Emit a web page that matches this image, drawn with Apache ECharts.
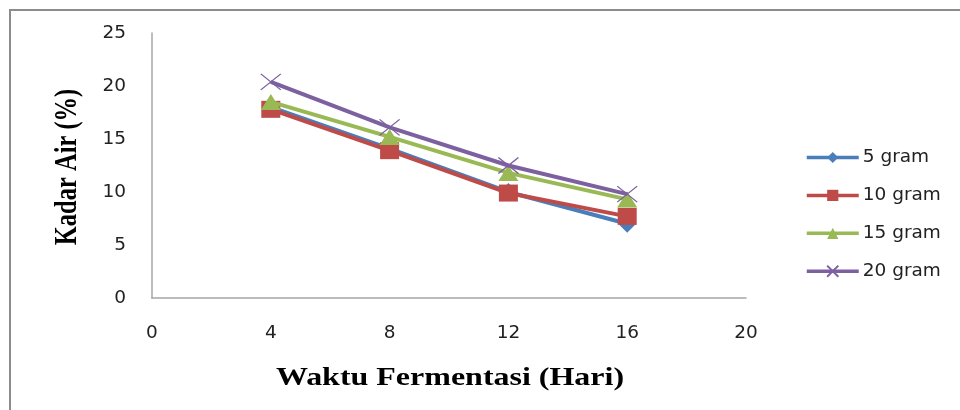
<!DOCTYPE html>
<html>
<head>
<meta charset="utf-8">
<script src="https://cdn.jsdelivr.net/npm/echarts@6/dist/echarts.min.js"></script>
<style>
  html, body { margin: 0; padding: 0; background: #fff; }
  #chart { width: 960px; height: 410px; }
</style>
</head>
<body>
<div id="chart"></div>
<script>
// Fermentation time (days) and water content (%) per dose
const days = [4, 8, 12, 16];
const gram5 = [18.0, 14.1, 10.0, 7.0];
const gram10 = [17.8, 13.9, 9.9, 7.7];
const gram15 = [18.5, 15.2, 11.8, 9.3];
const gram20 = [20.4, 16.1, 12.5, 9.8];
const seriesNames = ['5 gram', '10 gram', '15 gram', '20 gram'];
const xTitle = 'Waktu Fermentasi (Hari)';
const yTitle = 'Kadar Air (%)';

const colors = ['#4A7EBB', '#BE4B48', '#98B954', '#7D60A0'];
const symbols = ['diamond', 'rect', 'triangle', 'path://M0,0L10,10M10,0L0,10'];
const symbolSizes = [[18, 18], [19, 17], [20, 16], [20, 16]];
const values = [gram5, gram10, gram15, gram20];

const chart = echarts.init(document.getElementById('chart'), null, { renderer: 'canvas' });

const series = values.map((vals, i) => ({
  name: seriesNames[i],
  type: 'line',
  data: days.map((d, j) => [d, vals[j]]),
  symbol: symbols[i],
  symbolSize: symbolSizes[i],
  showAllSymbol: true,
  lineStyle: { color: colors[i], width: 4 },
  itemStyle: i === 3
    ? { color: colors[i], borderColor: colors[i], borderWidth: 1.2 }
    : { color: colors[i], borderWidth: 0 },
  emphasis: { disabled: true },
  z: 2 + i
}));

chart.setOption({
  animation: false,
  backgroundColor: '#ffffff',
  grid: { left: 152, right: 214, top: 33, bottom: 112, containLabel: false },
  graphic: [
    {
      type: 'rect',
      shape: { x: 10, y: 10, width: 980, height: 440 },
      style: { fill: 'none', stroke: '#8c8c8c', lineWidth: 2 },
      silent: true
    },
    {
      // horizontal axis title, slightly widened
      type: 'text',
      x: 450, y: 378,
      scaleX: 1.23,
      style: {
        text: xTitle,
        font: 'bold 26px "Liberation Serif"',
        fill: '#000',
        align: 'center',
        verticalAlign: 'middle'
      },
      silent: true
    },
    {
      // vertical axis title, rotated and widened across the page
      type: 'text',
      x: 68, y: 167,
      rotation: Math.PI / 2,
      scaleY: 1.3,
      style: {
        text: yTitle,
        font: 'bold 24.5px "Liberation Serif"',
        fill: '#000',
        align: 'center',
        verticalAlign: 'middle'
      },
      silent: true
    }
  ],
  xAxis: {
    type: 'value',
    min: 0, max: 20, interval: 4,
    axisLine: { show: true, lineStyle: { color: '#a6a6a6', width: 1.5 } },
    axisTick: { show: false },
    splitLine: { show: false },
    axisLabel: { margin: 26, fontFamily: 'DejaVu Sans', fontSize: 18.5, color: '#222' }
  },
  yAxis: {
    type: 'value',
    min: 0, max: 25, interval: 5,
    axisLine: { show: true, lineStyle: { color: '#a6a6a6', width: 1.5 } },
    axisTick: { show: false },
    splitLine: { show: false },
    axisLabel: { margin: 26, fontFamily: 'DejaVu Sans', fontSize: 18.5, color: '#222' }
  },
  legend: {
    orient: 'vertical',
    left: 800,
    top: 143,
    itemWidth: 52,
    itemHeight: 14,
    itemGap: 18.9,
    data: seriesNames,
    lineStyle: { width: 3.5 },
    textStyle: { fontFamily: 'DejaVu Sans', fontSize: 18.5, color: '#222', padding: [0, 0, 0, -1] }
  },
  series: series
});
</script>
</body>
</html>
